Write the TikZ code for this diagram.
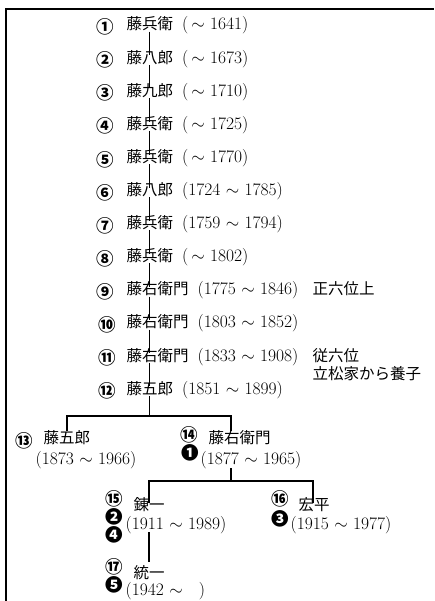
\documentclass[tikz,border=0pt]{standalone}
\usepackage{fontspec}
\newfontfamily\jp{Noto Sans CJK JP}
\newcommand{\J}[1]{{\fontsize{15.5}{17}\selectfont\jp #1}}
\begin{document}
\begin{tikzpicture}[x=1pt,y=-1pt,
  txt/.style={anchor=west,inner sep=0.5pt,font=\fontsize{17.5}{18}\selectfont,text height=0.7em,text depth=0.1em},
  num/.style={inner sep=0pt,font=\fontsize{17.5}{18}\selectfont\jp\bfseries},
  ln/.style={line width=1.8pt},
  frame/.style={line width=1.4pt}]
\useasboundingbox (0,0) rectangle (434,601);
\draw[frame] (6,601) -- (6,9) -- (434,9);
% main line rows
\foreach \i/\nm/\dt [evaluate=\i as \yy using 27+33.1*(\i-1)] in {
 1/藤兵衛/{(\,$\sim$ 1641)},
 2/藤八郎/{(\,$\sim$ 1673)},
 3/藤九郎/{(\,$\sim$ 1710)},
 4/藤兵衛/{(\,$\sim$ 1725)},
 5/藤兵衛/{(\,$\sim$ 1770)},
 6/藤八郎/{(1724 $\sim$ 1785)},
 7/藤兵衛/{(1759 $\sim$ 1794)},
 8/藤兵衛/{(\,$\sim$ 1802)},
 9/藤右衛門/{(1775 $\sim$ 1846)},
 10/藤右衛門/{(1803 $\sim$ 1852)},
 11/藤右衛門/{(1833 $\sim$ 1908)},
 12/藤五郎/{(1851 $\sim$ 1899)}}{
  \node[txt] (n\i) at (126,\yy) {\J{\nm}\hspace{9pt}\dt};
}
\node[num] (c1) at (105,27) {①};
\node[num] (c2) at (105,60.1) {②};
\node[num] (c3) at (105,93.2) {③};
\node[num] (c4) at (105,126.3) {④};
\node[num] (c5) at (105,159.4) {⑤};
\node[num] (c6) at (105,192.5) {⑥};
\node[num] (c7) at (105,225.6) {⑦};
\node[num] (c8) at (105,258.7) {⑧};
\node[num] (c9) at (105,291.8) {⑨};
\node[num] (c10) at (107,324.9) {⑩};
\node[num] (c11) at (107,358) {⑪};
\node[num] (c12) at (107,391.1) {⑫};
\node[txt] (r9) at (312,291.8) {\J{正六位上}};
\node[txt] (r11) at (312,358) {\J{従六位}};
\node[txt] (r11b) at (312,376) {\J{立松家から養子}};
% spine connectors
\coordinate (sp) at (149.5,0);
\foreach \i [evaluate=\i as \j using int(\i+1)] in {1,...,11}{
  \draw[ln] (sp |- n\i.south) -- (sp |- n\j.north);
}
% generation 13/14
\node[num] (c13) at (24.5,440.5) {⑬};
\node[txt] (n13) at (43,440) {\J{藤五郎}};
\node[txt] (d13) at (35,461) {(1873 $\sim$ 1966)};
\node[num] (c14) at (189.5,435) {⑭};
\node[num] (b1) at (190,453) {❶};
\node[txt] (n14) at (208,440) {\J{藤右衛門}};
\node[txt] (d14) at (200,461) {(1877 $\sim$ 1965)};
\coordinate (j12) at (149.5,415.7);
\coordinate (t13) at (66.7,431);
\coordinate (t14) at (230.7,431);
\draw[ln] (sp |- n12.south) -- (j12);
\draw[ln] (t13) |- (j12) -| (t14);
% generation 15/16
\node[num] (c15) at (114.5,499) {⑮};
\node[num] (b2) at (114.5,517) {❷};
\node[num] (b4) at (114.5,535) {❹};
\node[txt] (n15) at (133,507) {\J{錬一}};
\node[txt] (d15) at (125,526) {(1911 $\sim$ 1989)};
\node[num] (c16) at (280.5,499) {⑯};
\node[num] (b3) at (280.5,519) {❸};
\node[txt] (n16) at (298,507) {\J{宏平}};
\node[txt] (d16) at (290,526) {(1915 $\sim$ 1977)};
\coordinate (s14) at (230.7,468);
\coordinate (j14) at (230.7,480.7);
\coordinate (t15) at (149.3,503);
\coordinate (t16) at (313,503);
\draw[ln] (s14) -- (j14);
\draw[ln] (t15) |- (j14) -| (t16);
% generation 17
\node[num] (c17) at (114.5,567) {⑰};
\node[num] (b5) at (114.5,585) {❺};
\node[txt] (n17) at (133,575) {\J{統一}};
\node[txt] (d17) at (125,592) {(1942 $\sim$\hspace{16pt})};
\coordinate (s15) at (149.3,532);
\coordinate (t17) at (149.3,562);
\draw[ln] (s15) -- (t17);
\end{tikzpicture}
\end{document}
